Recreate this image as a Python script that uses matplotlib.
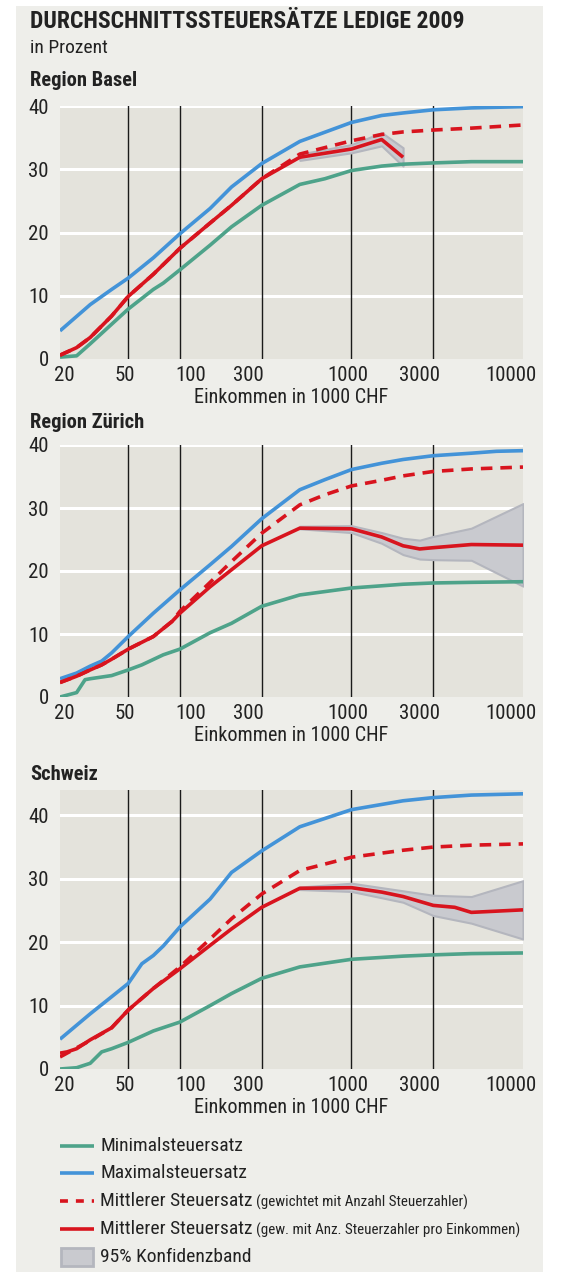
import matplotlib
matplotlib.use("Agg")
import matplotlib.pyplot as plt
from matplotlib.patches import Rectangle
from matplotlib.lines import Line2D
from matplotlib.transforms import ScaledTranslation

plt.rcParams['font.family'] = ['Liberation Sans Narrow', 'DejaVu Sans Condensed', 'Roboto Condensed',
                               'Liberation Sans', 'DejaVu Sans']
plt.rcParams['font.stretch'] = 'condensed'

# ---- data (Steuersatz in %, Einkommen in 1000 CHF) ----
basel_min_x = [20, 25, 30, 40, 50, 70, 80, 100, 150, 200, 300, 500, 700, 1000, 1500, 2000, 3000, 5000, 10000]
basel_min_y = [0.3, 0.5, 2.4, 5.5, 7.9, 11, 12, 14.1, 18, 20.9, 24.3, 27.6, 28.5, 29.8, 30.5, 30.8, 31, 31.2, 31.2]
basel_max_x = [20, 30, 40, 50, 70, 100, 150, 200, 300, 500, 1000, 1500, 2000, 3000, 5000, 10000]
basel_max_y = [4.45, 8.6, 11, 12.8, 16, 19.8, 23.8, 27.2, 30.9, 34.4, 37.4, 38.5, 38.9, 39.4, 39.7, 39.9]
basel_mean_x = [20, 25, 30, 40, 50, 70, 100, 150, 200, 300, 500, 1000, 1500, 2000, 3000, 5000, 10000]
basel_mean_y = [0.6, 1.8, 3.4, 6.8, 9.9, 13.4, 17.5, 21.5, 24.3, 28.5, 32.4, 34.5, 35.5, 35.9, 36.2, 36.5, 37.0]
basel_inc_x = [20, 25, 30, 40, 50, 70, 100, 150, 200, 300, 500, 1000, 1500, 2000]
basel_inc_y = [0.6, 1.8, 3.4, 6.8, 9.9, 13.4, 17.5, 21.5, 24.3, 28.5, 31.9, 33.2, 34.7, 31.9]
basel_band_x = [500, 1000, 1500, 2000]
basel_band_lo = [31.4, 32.6, 33.7, 30.5]
basel_band_hi = [32.4, 33.9, 35.8, 33.4]

zh_min_x = [20, 25, 28, 30, 40, 50, 60, 80, 100, 150, 200, 300, 500, 1000, 2000, 3000, 5000, 10000]
zh_min_y = [0, 0.7, 2.75, 2.9, 3.4, 4.3, 5.1, 6.7, 7.6, 10.2, 11.7, 14.4, 16.2, 17.3, 17.9, 18.1, 18.2, 18.3]
zh_max_x = [20, 25, 30, 35, 40, 50, 70, 100, 150, 200, 300, 500, 700, 1000, 1500, 2000, 3000, 5000, 7000, 10000]
zh_max_y = [2.9, 3.8, 4.9, 5.7, 7.0, 9.6, 13.3, 17, 21, 23.9, 28.3, 32.9, 34.5, 36.1, 37.1, 37.7, 38.3, 38.7, 39, 39.1]
zh_mean_x = [20, 25, 30, 35, 40, 50, 70, 90, 100, 150, 200, 300, 500, 700, 1000, 1500, 2000, 3000, 5000, 10000]
zh_mean_y = [2.3, 3.3, 4.3, 5.1, 6.0, 7.6, 9.6, 12, 13.6, 18.2, 21.5, 26, 30.5, 32.1, 33.5, 34.4, 35.1, 35.8, 36.2, 36.5]
zh_inc_x = [20, 25, 30, 35, 40, 50, 70, 90, 100, 150, 200, 300, 500, 1000, 1500, 2000, 2500, 3000, 5000, 10000]
zh_inc_y = [2.3, 3.3, 4.3, 5.1, 6.0, 7.6, 9.6, 12, 13.3, 17.5, 20.2, 24, 26.8, 26.7, 25.4, 24, 23.5, 23.7, 24.2, 24.1]
zh_band_x = [500, 1000, 1500, 2000, 2500, 3000, 5000, 10000]
zh_band_lo = [26.7, 26.1, 24.4, 22.6, 21.9, 21.8, 21.7, 17.6]
zh_band_hi = [27.1, 27.2, 26.1, 25.2, 24.9, 25.5, 26.8, 30.7]

ch_min_x = [20, 25, 30, 35, 40, 50, 70, 100, 150, 200, 300, 500, 1000, 2000, 3000, 5000, 10000]
ch_min_y = [0, 0.2, 0.9, 2.7, 3.2, 4.2, 6, 7.4, 10, 11.9, 14.3, 16.1, 17.3, 17.8, 18, 18.2, 18.3]
ch_max_x = [20, 30, 40, 50, 60, 70, 80, 100, 150, 200, 300, 500, 1000, 2000, 3000, 5000, 10000]
ch_max_y = [4.7, 8.7, 11.4, 13.5, 16.6, 17.9, 19.4, 22.4, 26.8, 31, 34.4, 38.2, 40.9, 42.3, 42.8, 43.2, 43.4]
ch_mean_x = [20, 30, 40, 50, 70, 100, 150, 200, 300, 500, 1000, 2000, 3000, 5000, 10000]
ch_mean_y = [1.9, 4.5, 6.5, 9.3, 12.7, 16.1, 20.5, 23.7, 27.6, 31.3, 33.4, 34.5, 35, 35.3, 35.5]
ch_inc_x = [20, 22, 25, 30, 40, 50, 70, 100, 150, 200, 300, 500, 1000, 1500, 2000, 3000, 4000, 5000, 10000]
ch_inc_y = [2.5, 2.7, 3.2, 4.6, 6.5, 9.3, 12.7, 15.8, 19.5, 22.1, 25.5, 28.5, 28.6, 27.9, 27.2, 25.8, 25.5, 24.7, 25.1]
ch_band_x = [500, 1000, 2000, 3000, 5000, 10000]
ch_band_lo = [28.3, 28, 26.3, 24.2, 23, 20.5]
ch_band_hi = [28.7, 29.3, 28.1, 27.4, 27.2, 29.7]

x_ticks = [20, 50, 100, 300, 1000, 3000, 10000]
x_tick_labels = ['20', '50', '100', '300', '1000', '3000', '10000']
x_label_shift = [4, -3, 11, -13, -4, -14, -12]   # label offsets in px, as in the print layout
v_lines = [50, 100, 300, 1000, 3000]

legend_labels = ['Minimalsteuersatz', 'Maximalsteuersatz', 'Mittlerer Steuersatz', 'Mittlerer Steuersatz',
                 '95% Konfidenzband']
legend_notes = ['', '', '(gewichtet mit Anzahl Steuerzahler)', '(gew. mit Anz. Steuerzahler pro Einkommen)', '']

# ---- style ----
GREEN = '#4ea38a'
BLUE = '#4393d8'
RED = '#d8141e'
PLOT_BG = '#e4e3dc'
PANEL_BG = '#eeeeea'
BAND = '#c9cacf'
BAND_EDGE = '#b4b6be'
TXT = '#222222'

W, H = 568, 1272
fig = plt.figure(figsize=(W / 100, H / 100), dpi=100, facecolor='white')
fig.patches.append(Rectangle((16 / W, 0), (543 - 16) / W, 1 - 6 / H, transform=fig.transFigure,
                             facecolor=PANEL_BG, edgecolor='none', zorder=-10))


def fx(px):
    return px / W


def fy(py):
    return 1 - py / H


def panel(top, bottom, ymax, yticks, series):
    ax = fig.add_axes([fx(60), fy(bottom), fx(523) - fx(60), fy(top) - fy(bottom)])
    ax.set_facecolor(PLOT_BG)
    ax.set_xscale('log')
    ax.set_xlim(20, 10000)
    ax.set_ylim(0, ymax)
    for s in ax.spines.values():
        s.set_visible(False)
    for v in yticks[1:]:
        ax.axhline(v, color='white', lw=2.2, zorder=1)
    for v in v_lines:
        ax.axvline(v, color='#1a1a1a', lw=1.0, zorder=1)
    (min_x, min_y, max_x, max_y, mean_x, mean_y, inc_x, inc_y, band_x, band_lo, band_hi) = series
    ax.fill_between(band_x, band_lo, band_hi, facecolor=BAND, edgecolor=BAND_EDGE, lw=1.5, zorder=2)
    ax.plot(min_x, min_y, color=GREEN, lw=2.6, zorder=3, solid_capstyle='butt')
    ax.plot(max_x, max_y, color=BLUE, lw=2.6, zorder=3, solid_capstyle='butt')
    ax.plot(mean_x, mean_y, color=RED, lw=2.6, ls=(0, (3.2, 2.2)), zorder=4)
    ax.plot(inc_x, inc_y, color=RED, lw=2.6, zorder=5, solid_capstyle='butt')
    ax.set_yticks(yticks)
    ax.set_yticklabels([str(v) for v in yticks])
    ax.set_xticks(x_ticks)
    ax.set_xticklabels(x_tick_labels)
    ax.minorticks_off()
    ax.tick_params(axis='both', length=0, labelsize=15, colors=TXT)
    ax.tick_params(axis='x', pad=5)
    ax.tick_params(axis='y', pad=8)
    for lab, dx in zip(ax.get_xticklabels(), x_label_shift):
        lab.set_transform(lab.get_transform() + ScaledTranslation(dx / 100, 0, fig.dpi_scale_trans))
    ax.set_xlabel('Einkommen in 1000 CHF', fontsize=14.5, color=TXT, labelpad=2)
    return ax


fig.text(fx(30), fy(22), 'DURCHSCHNITTSSTEUERSÄTZE LEDIGE 2009', fontsize=17, fontweight='bold',
         color=TXT, va='center', ha='left')
fig.text(fx(30), fy(48), 'in Prozent', fontsize=14, color=TXT, va='center', ha='left')

fig.text(fx(30), fy(80), 'Region Basel', fontsize=14.8, fontweight='bold', color=TXT, va='center')
panel(106, 359, 40, [0, 10, 20, 30, 40],
      (basel_min_x, basel_min_y, basel_max_x, basel_max_y, basel_mean_x, basel_mean_y,
       basel_inc_x, basel_inc_y, basel_band_x, basel_band_lo, basel_band_hi))

fig.text(fx(30), fy(423), 'Region Zürich', fontsize=14.8, fontweight='bold', color=TXT, va='center')
panel(445, 697, 40, [0, 10, 20, 30, 40],
      (zh_min_x, zh_min_y, zh_max_x, zh_max_y, zh_mean_x, zh_mean_y,
       zh_inc_x, zh_inc_y, zh_band_x, zh_band_lo, zh_band_hi))

fig.text(fx(30), fy(775), 'Schweiz', fontsize=14.8, fontweight='bold', color=TXT, va='center')
panel(790, 1069, 44, [0, 10, 20, 30, 40],
      (ch_min_x, ch_min_y, ch_max_x, ch_max_y, ch_mean_x, ch_mean_y,
       ch_inc_x, ch_inc_y, ch_band_x, ch_band_lo, ch_band_hi))

# ---- legend ----
rows = [1146, 1173, 1201, 1229, 1257]
handles = [dict(color=GREEN, ls='-'), dict(color=BLUE, ls='-'), dict(color=RED, ls=(0, (2.2, 2.2))),
           dict(color=RED, ls='-'), None]
renderer = fig.canvas.get_renderer()
for y, h, lab, note in zip(rows, handles, legend_labels, legend_notes):
    if h is None:
        fig.patches.append(Rectangle((fx(61), fy(y + 9)), fx(93) - fx(61), fy(y - 9) - fy(y + 9),
                                     transform=fig.transFigure, facecolor=BAND, edgecolor=BAND_EDGE, lw=2))
    else:
        fig.lines.append(Line2D([fx(60), fx(94)], [fy(y), fy(y)], transform=fig.transFigure, lw=2.6,
                                solid_capstyle='butt', dash_capstyle='butt', **h))
    t = fig.text(fx(100), fy(y), lab, fontsize=14, color=TXT, va='center', ha='left')
    if note:
        bb = t.get_window_extent(renderer)
        fig.text(bb.x1 / W + fx(4), fy(y + 1), note, fontsize=10.8, color=TXT, va='center', ha='left')

fig.savefig('out.png', dpi=100, facecolor='white')
